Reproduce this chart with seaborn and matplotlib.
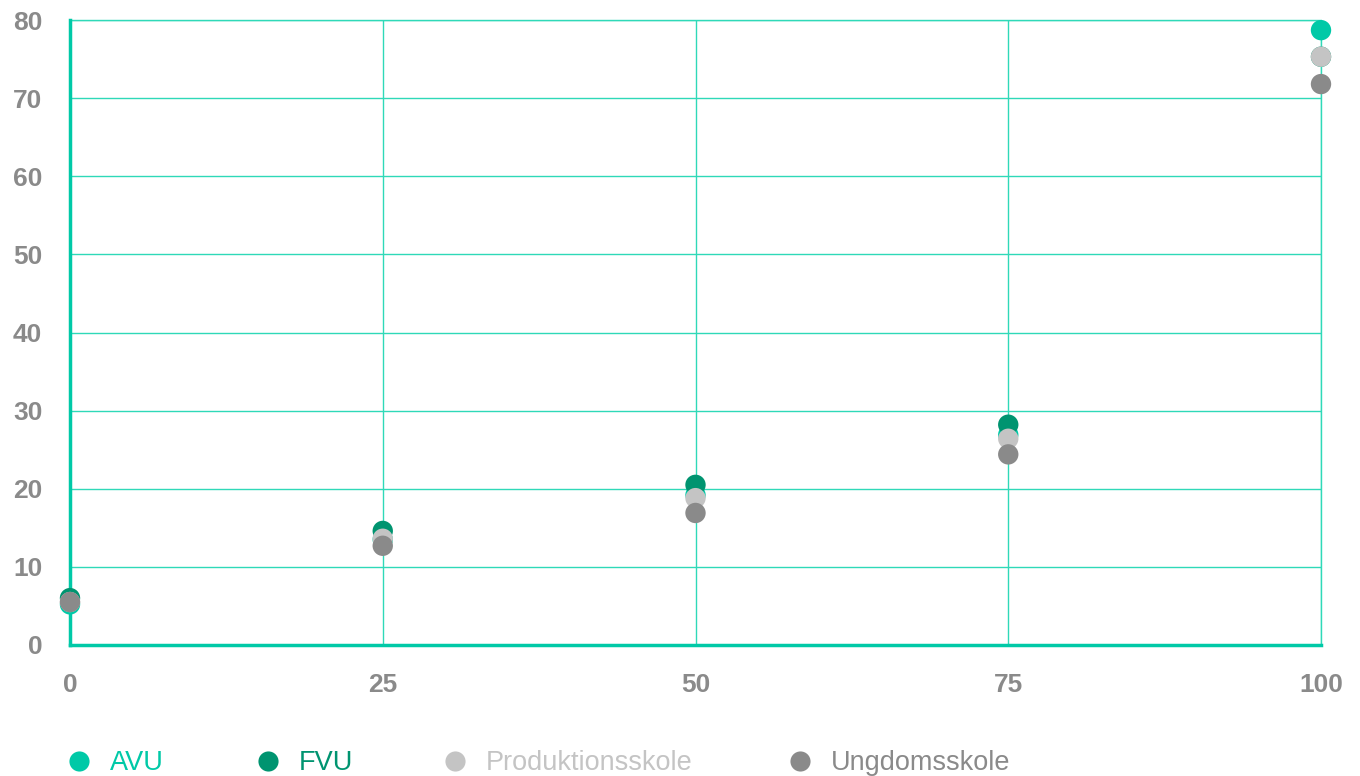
import numpy as np
import pandas as pd
import matplotlib
matplotlib.use("Agg")
import matplotlib.pyplot as plt
import seaborn as sns
from matplotlib.lines import Line2D

# Data
x_values = [0, 25, 50, 75, 100]
avu = [5.2, 13.5, 19.2, 26.9, 78.7]
fvu = [6.0, 14.6, 20.5, 28.2, 75.3]
produktionsskole = [5.5, 13.6, 18.8, 26.4, 75.3]
ungdomsskole = [5.5, 12.7, 16.9, 24.4, 71.8]

series_names = ["AVU", "FVU", "Produktionsskole", "Ungdomsskole"]
series_colors = ["#00c9a7", "#009470", "#c4c4c4", "#8a8a8a"]

df = pd.concat([
    pd.DataFrame({"x": x_values, "y": vals, "gruppe": name})
    for name, vals in zip(series_names, [avu, fvu, produktionsskole, ungdomsskole])
])

sns.set_style("white")
plt.rcParams["font.family"] = ["Liberation Sans", "DejaVu Sans"]

fig = plt.figure(figsize=(13.6, 7.76), dpi=100)
ax = fig.add_axes([70 / 1360, 1 - 645 / 776, (1321 - 70) / 1360, (645 - 20) / 776])

grid_color = "#2fd9b8"
sns.scatterplot(
    data=df, x="x", y="y", hue="gruppe", palette=series_colors,
    hue_order=series_names, s=215, linewidth=0, ax=ax, legend=False,
    clip_on=False, zorder=3,
)

ax.set_xlim(0, 100)
ax.set_ylim(0, 80)
ax.set_xticks(x_values)
ax.set_yticks(np.arange(0, 81, 10))
ax.grid(True, color=grid_color, linewidth=1)
ax.axvline(100, color=grid_color, linewidth=1, clip_on=False, zorder=0.5)
ax.axhline(80, color=grid_color, linewidth=1, clip_on=False, zorder=0.5)
ax.set_axisbelow(True)
for side in ["top", "right"]:
    ax.spines[side].set_visible(False)
for side in ["left", "bottom"]:
    ax.spines[side].set_color("#00c9a7")
    ax.spines[side].set_linewidth(2.5)
ax.tick_params(axis="both", length=0, labelsize=19, labelcolor="#8a8a8a")
ax.tick_params(axis="x", pad=20)
ax.tick_params(axis="y", pad=20)
for lbl in ax.get_xticklabels() + ax.get_yticklabels():
    lbl.set_fontweight("bold")
ax.set_xlabel("")
ax.set_ylabel("")

# legend entries placed individually to match the uneven spacing
legend_left_px = [65.5, 254.5, 441.5, 786.5]
for name, color, left in zip(series_names, series_colors, legend_left_px):
    handle = Line2D([0], [0], marker="o", linestyle="", markersize=14.5,
                    markerfacecolor=color, markeredgewidth=0)
    leg = fig.legend(
        [handle], [name], loc="center left",
        bbox_to_anchor=(left / 1360, 1 - 763 / 776),
        frameon=False, fontsize=19.5, handletextpad=0.65, handlelength=1.0,
        borderpad=0, borderaxespad=0,
    )
    leg.get_texts()[0].set_color(color)

fig.savefig("out.png", dpi=100)
